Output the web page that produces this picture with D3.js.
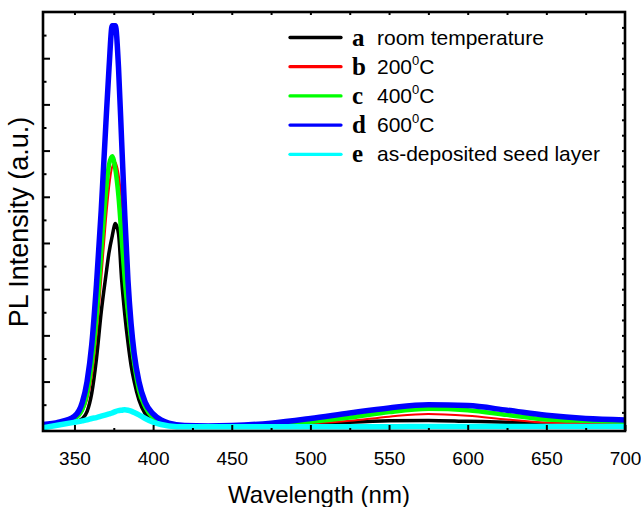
<!DOCTYPE html>
<html>
<head>
<meta charset="utf-8">
<title>PL spectra</title>
<script src="https://d3js.org/d3.v7.min.js"></script>
<style>
  body { margin: 0; background: #fff; }
  text { font-family: Arial, "Liberation Sans", sans-serif; }
</style>
</head>
<body>
<div id="chart"></div>
<script>
// wavelength grid (nm) and PL intensity (a.u.)
var wavelength = [330, 340, 350, 355, 358, 361, 364, 367, 370, 372, 374, 376, 378, 380, 382, 384, 386, 388, 391, 395, 400, 405, 410, 420, 435, 450, 475, 500, 525, 550, 575, 600, 625, 650, 675, 700];

var roomTemp = [0.06, 0.08, 0.12, 0.2, 0.35, 0.75, 1.5, 2.5, 3.3, 3.8, 4.15, 4.42, 4.2, 3.2, 2.45, 1.85, 1.35, 1.0, 0.6, 0.3, 0.14, 0.08, 0.05, 0.04, 0.03, 0.03, 0.05, 0.08, 0.12, 0.15, 0.16, 0.14, 0.12, 0.09, 0.08, 0.07];
var t200 = [0.07, 0.1, 0.18, 0.35, 0.6, 1.1, 2.0, 3.2, 4.5, 5.2, 5.65, 5.75, 5.5, 4.9, 3.9, 2.8, 1.95, 1.4, 0.8, 0.45, 0.22, 0.12, 0.07, 0.04, 0.03, 0.03, 0.05, 0.09, 0.15, 0.24, 0.3, 0.26, 0.18, 0.11, 0.1, 0.09];
var t400 = [0.06, 0.1, 0.2, 0.4, 0.75, 1.4, 2.4, 3.8, 5.1, 5.7, 5.88, 5.6, 5.0, 4.1, 3.2, 2.5, 1.9, 1.4, 0.82, 0.45, 0.22, 0.12, 0.07, 0.04, 0.03, 0.04, 0.07, 0.13, 0.22, 0.34, 0.41, 0.38, 0.28, 0.18, 0.15, 0.13];
var t600 = [0.07, 0.12, 0.25, 0.55, 1.0, 1.8, 3.1, 4.7, 6.6, 7.8, 8.7, 8.7, 7.8, 6.2, 4.6, 3.2, 2.25, 1.6, 1.0, 0.55, 0.3, 0.17, 0.1, 0.05, 0.04, 0.05, 0.1, 0.2, 0.32, 0.43, 0.5, 0.48, 0.38, 0.27, 0.2, 0.17];
var seed = [0.0, 0.06, 0.12, 0.15, 0.17, 0.2, 0.22, 0.25, 0.28, 0.3, 0.32, 0.35, 0.37, 0.38, 0.39, 0.38, 0.36, 0.33, 0.28, 0.2, 0.12, 0.07, 0.04, 0.02, 0.02, 0.02, 0.02, 0.02, 0.02, 0.02, 0.03, 0.03, 0.03, 0.03, 0.03, 0.03];

var letters = ["a", "b", "c", "d", "e"];
var labels = ["room temperature", "200", "400", "600", "as-deposited seed layer"];
var superC = [false, true, true, true, false];
var xTicks = [350, 400, 450, 500, 550, 600, 650, 700];

var series = [
  { key: "a", values: roomTemp, color: "#000000", width: 3.5 },
  { key: "b", values: t200, color: "#ff0000", width: 2 },
  { key: "c", values: t400, color: "#00ff00", width: 4.5 },
  { key: "d", values: t600, color: "#0000ff", width: 5.5 },
  { key: "e", values: seed, color: "#00ffff", width: 5.5 }
];

var W = 641, H = 507;
var pLeft = 43, pRight = 625, pTop = 12, pBottom = 431;

var svg = d3.select("#chart").append("svg")
  .attr("width", W)
  .attr("height", H);

var x = d3.scaleLinear().domain([330, 700]).range([pLeft, pRight]);
var y = d3.scaleLinear().domain([-0.07, 9]).range([pBottom, pTop]);

// curves
var line = d3.line()
  .x(function (d) { return x(d[0]); })
  .y(function (d) { return y(d[1]); })
  .curve(d3.curveMonotoneX);

svg.append("defs").append("clipPath").attr("id", "clip")
  .append("rect").attr("x", pLeft).attr("y", pTop)
  .attr("width", pRight - pLeft).attr("height", pBottom - pTop);

svg.append("g").attr("clip-path", "url(#clip)")
  .selectAll("path")
  .data(series)
  .enter().append("path")
  .attr("fill", "none")
  .attr("stroke", function (d) { return d.color; })
  .attr("stroke-width", function (d) { return d.width; })
  .attr("stroke-linejoin", "round")
  .attr("d", function (d) {
    return line(wavelength.map(function (w, i) { return [w, d.values[i]]; }));
  });

// axes (ticks inside the frame)
function styleAxis(g) {
  g.select(".domain").remove();
  g.selectAll(".tick line").attr("stroke", "#000").attr("stroke-width", 2);
  g.selectAll(".tick text").attr("font-size", 19).attr("fill", "#000")
    .style("font-family", "Arial, 'Liberation Sans', sans-serif");
}

svg.append("g")
  .attr("transform", "translate(0," + pBottom + ")")
  .call(d3.axisBottom(x).tickValues(xTicks).tickSize(-6).tickPadding(21).tickFormat(d3.format("d")))
  .call(styleAxis);

svg.append("g")
  .attr("transform", "translate(0," + pBottom + ")")
  .call(d3.axisBottom(x).tickValues(d3.range(375, 700, 50)).tickSize(-3).tickFormat(""))
  .call(styleAxis);

svg.append("g")
  .attr("transform", "translate(0," + pTop + ")")
  .call(d3.axisTop(x).tickValues(d3.range(350, 700, 25)).tickSize(-3).tickFormat(""))
  .call(styleAxis);

svg.append("g")
  .attr("transform", "translate(" + pLeft + ",0)")
  .call(d3.axisLeft(y).tickValues(d3.range(1, 9, 1)).tickSize(-7).tickFormat(""))
  .call(styleAxis);

svg.append("g")
  .attr("transform", "translate(" + pLeft + ",0)")
  .call(d3.axisLeft(y).tickValues(d3.range(0.5, 9, 1)).tickSize(-3.5).tickFormat(""))
  .call(styleAxis);

svg.append("g")
  .attr("transform", "translate(" + pRight + ",0)")
  .call(d3.axisRight(y).tickValues(d3.range(1, 27).map(function (k) { return k / 3; })).tickSize(-3).tickFormat(""))
  .call(styleAxis);

// frame
svg.append("rect")
  .attr("x", pLeft).attr("y", pTop)
  .attr("width", pRight - pLeft).attr("height", pBottom - pTop)
  .attr("fill", "none").attr("stroke", "#000").attr("stroke-width", 2.6);

// axis titles
svg.append("text")
  .attr("x", 319).attr("y", 503)
  .attr("text-anchor", "middle")
  .attr("font-size", 24)
  .text("Wavelength (nm)");

svg.append("text")
  .attr("transform", "translate(28,222) rotate(-90)")
  .attr("text-anchor", "middle")
  .attr("font-size", 27)
  .text("PL Intensity (a.u.)");

// legend
var legend = svg.append("g");
series.forEach(function (s, i) {
  var ly = 37.5 + i * 29.2;
  legend.append("line")
    .attr("x1", 290).attr("x2", 341)
    .attr("y1", ly).attr("y2", ly)
    .attr("stroke", s.color).attr("stroke-width", 3.3)
    .attr("stroke-linecap", "round");
  legend.append("text")
    .attr("x", 352).attr("y", ly + 8)
    .attr("font-size", 25).attr("font-weight", "bold")
    .style("font-family", "'Liberation Serif', 'Times New Roman', serif")
    .text(letters[i]);
  var t = legend.append("text")
    .attr("x", 377).attr("y", ly + 7)
    .attr("font-size", 21);
  t.append("tspan").text(labels[i]);
  if (superC[i]) {
    t.append("tspan").attr("font-size", 13).attr("dy", -9).text("0");
    t.append("tspan").attr("dy", 9).text("C");
  }
});
</script>
</body>
</html>
